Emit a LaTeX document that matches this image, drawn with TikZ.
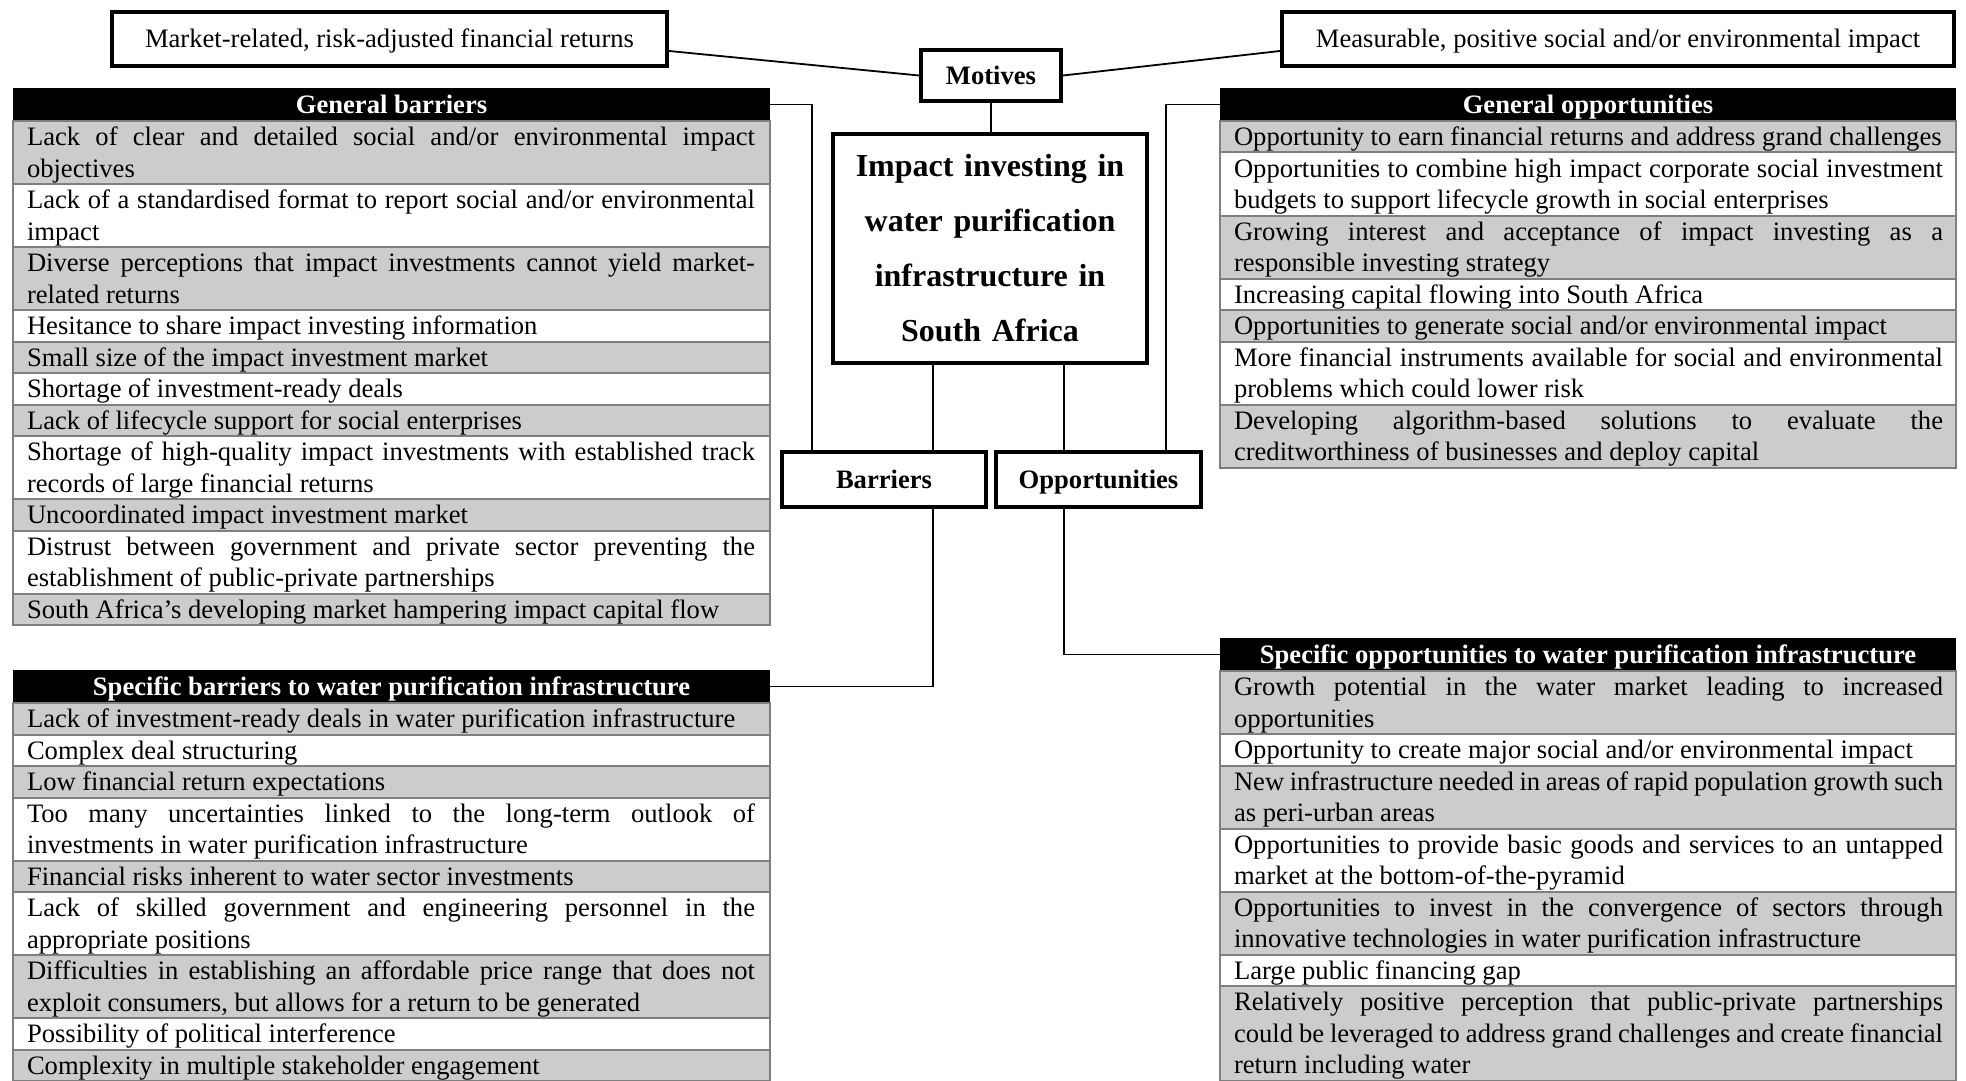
\documentclass[tikz,border=0pt]{standalone}
\usepackage{fontspec}
\setmainfont{Liberation Serif}

\definecolor{rowgray}{HTML}{CCCCCC}
\definecolor{rowline}{HTML}{7F7F7F}

\newcommand\bodyfont{\fontsize{13.3pt}{15.75pt}\selectfont}
\newcommand\titlefont{\fontsize{16pt}{27.5pt}\selectfont\bfseries}
% strut of one table line (15.75pt in all)
\newcommand\cellstrut{\vrule width0pt height12.3pt depth3.45pt}
% one justified line / one closing (ragged) line of a table cell
\newcommand\jline[1]{\hbox to\hsize{\cellstrut#1}}
\newcommand\eline[1]{\hbox to\hsize{\cellstrut#1\hfil}}
% cell bodies for the barrier tables and the opportunity tables
\newcommand\bcell[1]{\kern7pt\vbox{\hsize=364pt #1}\kern7.5pt}
\newcommand\ocell[1]{\kern7pt\vbox{\hsize=354.5pt #1}\kern6.5pt}

\tikzset{
  thickbox/.style={draw=black, line width=2pt, fill=white, inner sep=0pt, font=\bodyfont},
  motivebox/.style={thickbox, minimum height=27pt, text height=9pt, text depth=0pt},
  link/.style={draw=black, line width=0.9pt},
  row/.style={draw=rowline, line width=1pt, inner sep=0pt, outer sep=0pt, anchor=north west, font=\bodyfont},
  grayrow/.style={row, fill=rowgray},
  whiterow/.style={row, fill=white},
  head/.style={fill=black, text=white, inner sep=0pt, outer sep=0pt, anchor=north west,
               minimum height=16.5pt, text height=12.75pt, text depth=3.75pt, font=\bodyfont\bfseries},
  bhead/.style={head, minimum width=378.5pt},
  ohead/.style={head, minimum width=368pt},
}

\begin{document}
\begin{tikzpicture}[x=0.5pt, y=-0.5pt]
\useasboundingbox (0,0) rectangle (1966,1081);

% ---------- central boxes ----------
\node[motivebox, minimum width=277.5pt] (market) at (389.5,39)
  {Market-related, risk-adjusted financial returns};
\node[motivebox, minimum width=336pt] (measure) at (1618,39)
  {Measurable, positive social and/or environmental impact};
\node[thickbox, minimum width=70pt, minimum height=25.5pt, font=\bodyfont\bfseries] (motives) at (991,75.5)
  {Motives};
\node[thickbox, minimum width=157pt, minimum height=114.5pt, text width=155pt, align=center, font=\titlefont] (center) at (990,248.5)
  {Impact investing in\\ water purification\\ infrastructure in\\ South Africa};
\node[thickbox, minimum width=102pt, minimum height=27.5pt, text height=8.8pt, text depth=0pt, font=\bodyfont\bfseries] (barriers) at (884,479.5)
  {Barriers};
\node[thickbox, minimum width=102.5pt, minimum height=27.5pt, text height=8.8pt, text depth=0pt, font=\bodyfont\bfseries] (opps) at (1098.5,479.5)
  {Opportunities};

% ---------- general barriers ----------
\node[bhead] (gbh) at (13,88) {General barriers};
\node[grayrow] (gb1) at (gbh.south west) {\bcell{\jline{Lack of clear and detailed social and/or environmental impact}\eline{objectives}}};
\node[whiterow] (gb2) at (gb1.south west) {\bcell{\jline{Lack of a standardised format to report social and/or environmental}\eline{impact}}};
\node[grayrow] (gb3) at (gb2.south west) {\bcell{\jline{Diverse perceptions that impact investments cannot yield market-}\eline{related returns}}};
\node[whiterow] (gb4) at (gb3.south west) {\bcell{\eline{Hesitance to share impact investing information}}};
\node[grayrow] (gb5) at (gb4.south west) {\bcell{\eline{Small size of the impact investment market}}};
\node[whiterow] (gb6) at (gb5.south west) {\bcell{\eline{Shortage of investment-ready deals}}};
\node[grayrow] (gb7) at (gb6.south west) {\bcell{\eline{Lack of lifecycle support for social enterprises}}};
\node[whiterow] (gb8) at (gb7.south west) {\bcell{\jline{Shortage of high-quality impact investments with established track}\eline{records of large financial returns}}};
\node[grayrow] (gb9) at (gb8.south west) {\bcell{\eline{Uncoordinated impact investment market}}};
\node[whiterow] (gb10) at (gb9.south west) {\bcell{\jline{Distrust between government and private sector preventing the}\eline{establishment of public-private partnerships}}};
\node[grayrow] (gb11) at (gb10.south west) {\bcell{\eline{South Africa’s developing market hampering impact capital flow}}};

% ---------- general opportunities ----------
\node[ohead] (goh) at (1220,88) {General opportunities};
\node[grayrow] (go1) at (goh.south west) {\ocell{\eline{Opportunity to earn financial returns and address grand challenges}}};
\node[whiterow] (go2) at (go1.south west) {\ocell{\jline{Opportunities to combine high impact corporate social investment}\eline{budgets to support lifecycle growth in social enterprises}}};
\node[grayrow] (go3) at (go2.south west) {\ocell{\jline{Growing interest and acceptance of impact investing as a}\eline{responsible investing strategy}}};
\node[whiterow] (go4) at (go3.south west) {\ocell{\eline{Increasing capital flowing into South Africa}}};
\node[grayrow] (go5) at (go4.south west) {\ocell{\eline{Opportunities to generate social and/or environmental impact}}};
\node[whiterow] (go6) at (go5.south west) {\ocell{\jline{More financial instruments available for social and environmental}\eline{problems which could lower risk}}};
\node[grayrow] (go7) at (go6.south west) {\ocell{\jline{Developing algorithm-based solutions to evaluate the}\eline{creditworthiness of businesses and deploy capital}}};

% ---------- specific barriers ----------
\node[bhead] (sbh) at (13,670) {Specific barriers to water purification infrastructure};
\node[grayrow] (sb1) at (sbh.south west) {\bcell{\eline{Lack of investment-ready deals in water purification infrastructure}}};
\node[whiterow] (sb2) at (sb1.south west) {\bcell{\eline{Complex deal structuring}}};
\node[grayrow] (sb3) at (sb2.south west) {\bcell{\eline{Low financial return expectations}}};
\node[whiterow] (sb4) at (sb3.south west) {\bcell{\jline{Too many uncertainties linked to the long-term outlook of}\eline{investments in water purification infrastructure}}};
\node[grayrow] (sb5) at (sb4.south west) {\bcell{\eline{Financial risks inherent to water sector investments}}};
\node[whiterow] (sb6) at (sb5.south west) {\bcell{\jline{Lack of skilled government and engineering personnel in the}\eline{appropriate positions}}};
\node[grayrow] (sb7) at (sb6.south west) {\bcell{\jline{Difficulties in establishing an affordable price range that does not}\eline{exploit consumers, but allows for a return to be generated}}};
\node[whiterow] (sb8) at (sb7.south west) {\bcell{\eline{Possibility of political interference}}};
\node[grayrow] (sb9) at (sb8.south west) {\bcell{\eline{Complexity in multiple stakeholder engagement}}};

% ---------- specific opportunities ----------
\node[ohead] (soh) at (1220,638) {Specific opportunities to water purification infrastructure};
\node[grayrow] (so1) at (soh.south west) {\ocell{\jline{Growth potential in the water market leading to increased}\eline{opportunities}}};
\node[whiterow] (so2) at (so1.south west) {\ocell{\eline{Opportunity to create major social and/or environmental impact}}};
\node[grayrow] (so3) at (so2.south west) {\ocell{\jline{New infrastructure needed in areas of rapid population growth such}\eline{as peri-urban areas}}};
\node[whiterow] (so4) at (so3.south west) {\ocell{\jline{Opportunities to provide basic goods and services to an untapped}\eline{market at the bottom-of-the-pyramid}}};
\node[grayrow] (so5) at (so4.south west) {\ocell{\jline{Opportunities to invest in the convergence of sectors through}\eline{innovative technologies in water purification infrastructure}}};
\node[whiterow] (so6) at (so5.south west) {\ocell{\eline{Large public financing gap}}};
\node[grayrow] (so7) at (so6.south west) {\ocell{\jline{Relatively positive perception that public-private partnerships}\jline{could be leveraged to address grand challenges and create financial}\eline{return including water}}};

% ---------- connectors ----------
\draw[link] ([yshift=-6pt]market.east) -- (motives.west);
\draw[link] (motives.east) -- ([yshift=-6pt]measure.west);
\draw[link] (motives.south) -- (motives.south |- center.north);
\draw[link] ([xshift=-28.5pt]center.south) -- ([xshift=-28.5pt]center.south |- barriers.north);
\draw[link] ([xshift=37pt]center.south) -- ([xshift=37pt]center.south |- opps.north);
\draw[link] (gbh.east) -| ([xshift=-36pt]barriers.north);
\draw[link] (goh.west) -| ([xshift=33.75pt]opps.north);
\draw[link] ([xshift=24.5pt]barriers.south) |- (sbh.east);
\draw[link] ([xshift=-17.25pt]opps.south) |- (soh.west);
\end{tikzpicture}
\end{document}
